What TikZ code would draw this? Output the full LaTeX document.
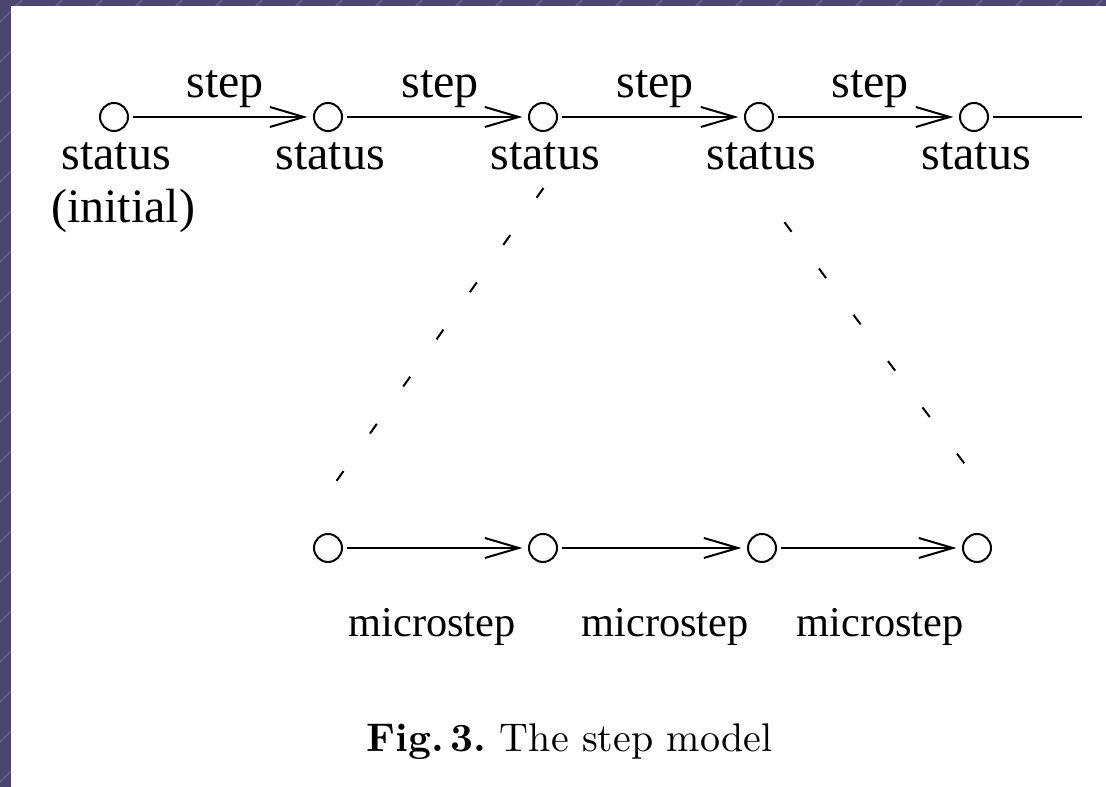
\documentclass[tikz,border=0pt]{standalone}
\usepackage{fontspec}
\newfontfamily\figfont{Liberation Serif}
\usetikzlibrary{arrows.meta,positioning,calc}
\definecolor{slate}{HTML}{4A4670}
\definecolor{slateln}{HTML}{6B6893}
\tikzset{
  st/.style={circle, draw, line width=0.5pt, inner sep=0pt, minimum size=7pt},
  trans/.style={-{Straight Barb[length=8.5pt, width=5pt, line width=0.5pt]}, line width=0.5pt, shorten <=0.9pt, shorten >=1.4pt},
  zoomln/.style={line width=0.5pt, dash pattern=on 3pt off 11.44pt},
  lbl/.style={font=\figfont\fontsize{12}{14}\selectfont, inner sep=0pt, anchor=base},
  mlbl/.style={font=\figfont\fontsize{10.6}{12}\selectfont, inner sep=0pt, anchor=base},
  captxt/.style={font=\fontsize{10}{12}\selectfont, inner sep=0pt, anchor=base},
}

\begin{document}
\begin{tikzpicture}[x=0.25pt, y=-0.25pt]
  \useasboundingbox (0,0) rectangle (1106,787);
  \fill[slate] (0,0) rectangle (1106,787);
  \begin{scope}
    \clip (0,0) rectangle (1106,787);
    \foreach \c in {22,62,...,1902} \draw[slateln, line width=0.3pt] (\c,0) -- (\c-787,787);
  \end{scope}
  \fill[white] (11,6) rectangle (1106,787);
  \foreach \i/\x in {1/114,2/328,3/543,4/759,5/974} \node[st] (s\i) at (\x,117) {};
  \foreach \i/\x in {1/328,2/543,3/762,4/977} \node[st] (m\i) at (\x,548) {};
  \foreach \i/\j in {1/2,2/3,3/4,4/5} \draw[trans] (s\i) -- (s\j);
  \foreach \i/\j in {1/2,2/3,3/4} \draw[trans] (m\i) -- (m\j);
  \coordinate (tail) at (1082,117);
  \draw[line width=0.5pt, shorten <=0.9pt] (s5) -- (tail);
  \foreach \i/\x in {1/225,2/440,3/655,4/870} \node[lbl] (stp\i) at (\x,98) {step};
  \foreach \i/\x in {1/116,2/330,3/545,4/761,5/976} \node[lbl] (lb\i) at (\x,170) {status};
  \node[lbl] (ini) at (123,223) {(initial)};
  \foreach \i/\x in {1/432,2/665,3/880} \node[mlbl] (ms\i) at (\x,637) {microstep};
  \coordinate (za) at (543.5,188);
  \coordinate (zb) at (336.5,481);
  \coordinate (zc) at (784.4,222.2);
  \coordinate (zd) at (964.6,463.8);
  \draw[zoomln] (za) -- (zb);
  \draw[zoomln] (zc) -- (zd);
  \node[captxt] (caption) at (569.5,752) {\textbf{Fig.\,3.}\ The step model};
\end{tikzpicture}
\end{document}
